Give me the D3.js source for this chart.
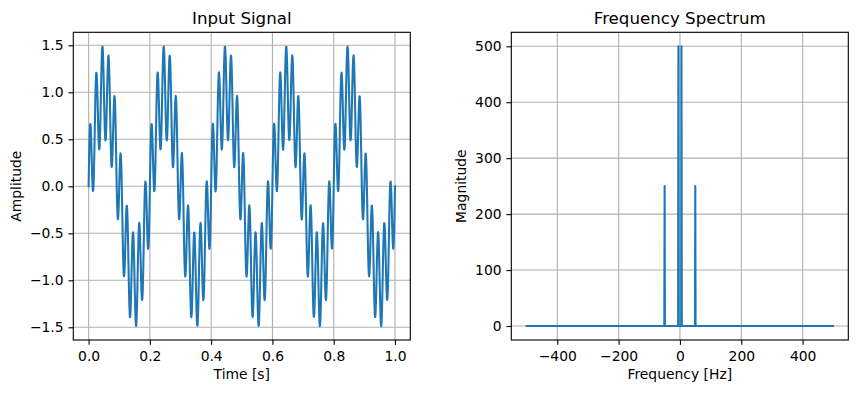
<!DOCTYPE html>
<html><head><meta charset="utf-8">
<script src="https://cdn.jsdelivr.net/npm/d3@7"></script>
<style>
html,body{margin:0;padding:0;background:#fff;}
svg{display:block;}
text{font-family:"DejaVu Sans",sans-serif;fill:#000;}
</style></head>
<body>
<svg id="c" width="857" height="393"></svg>
<script>
// ---- data ----
const signalFreqs = [5, 50];          // Hz, components of the input signal
const signalAmps  = [1.0, 0.5];       // amplitudes of those components
const sampleCount = 1000;             // samples over 1 s (0..1)
const timeTicks = [0, 0.2, 0.4, 0.6, 0.8, 1.0];
const ampTicks  = [-1.5, -1.0, -0.5, 0.0, 0.5, 1.0, 1.5];

const specFreqs = [-500, -51, -50, -49, -6, -5, -4, 4, 5, 6, 49, 50, 51, 499];
const specMags  = [0, 0, 250, 0, 0, 500, 0, 0, 500, 0, 0, 250, 0, 0];
const freqTicks = [-400, -200, 0, 200, 400];
const magTicks  = [0, 100, 200, 300, 400, 500];

// ---- build series ----
const timeVals = d3.range(sampleCount).map(i => i / (sampleCount - 1));
const signal = timeVals.map(t => ({
  x: t,
  y: d3.sum(signalFreqs, (f, k) => signalAmps[k] * Math.sin(2 * Math.PI * f * t))
}));
const spectrum = specFreqs.map((f, i) => ({x: f, y: specMags[i]}));

const svg = d3.select("#c");
const FS = 13.89, TFS = 16.67;
const blue = "#1f77b4";
const fmtMinus = s => s.replace("-", "\u2212");

function panel(o) {
  const x = d3.scaleLinear().domain(o.xdom).range([o.left, o.right]);
  const y = d3.scaleLinear().domain(o.ydom).range([o.bottom, o.top]);
  const g = svg.append("g");
  // grid
  g.append("g").selectAll("line").data(o.xticks).join("line")
    .attr("x1", d => x(d)).attr("x2", d => x(d))
    .attr("y1", o.top).attr("y2", o.bottom)
    .attr("stroke", "#b0b0b0").attr("stroke-width", 1.11);
  g.append("g").selectAll("line").data(o.yticks).join("line")
    .attr("y1", d => y(d)).attr("y2", d => y(d))
    .attr("x1", o.left).attr("x2", o.right)
    .attr("stroke", "#b0b0b0").attr("stroke-width", 1.11);
  // line
  g.append("path").datum(o.data)
    .attr("fill", "none").attr("stroke", blue).attr("stroke-width", 2.08)
    .attr("stroke-linejoin", "round").attr("stroke-linecap", "square")
    .attr("d", d3.line().x(d => x(d.x)).y(d => y(d.y)));
  // axes
  const ax = g.append("g").attr("transform", `translate(0,${o.bottom})`)
    .call(d3.axisBottom(x).tickValues(o.xticks).tickFormat(o.xfmt).tickSizeOuter(0).tickSize(4.86).tickPadding(4.86));
  const ay = g.append("g").attr("transform", `translate(${o.left},0)`)
    .call(d3.axisLeft(y).tickValues(o.yticks).tickFormat(o.yfmt).tickSizeOuter(0).tickSize(4.86).tickPadding(4.86));
  [ax, ay].forEach(a => {
    a.select(".domain").remove();
    a.selectAll(".tick line").attr("stroke", "#000").attr("stroke-width", 1.11);
    a.selectAll(".tick text").attr("font-size", FS).attr("font-family", "DejaVu Sans").attr("fill", "#000");
  });
  ax.selectAll(".tick text").attr("dy", "0.78em");
  // frame
  g.append("rect").attr("x", o.left).attr("y", o.top)
    .attr("width", o.right - o.left).attr("height", o.bottom - o.top)
    .attr("fill", "none").attr("stroke", "#000").attr("stroke-width", 1.11);
  const cx = (o.left + o.right) / 2, cy = (o.top + o.bottom) / 2;
  g.append("text").attr("x", cx).attr("y", 24.3).attr("text-anchor", "middle")
    .attr("font-size", TFS).text(o.title);
  g.append("text").attr("x", cx).attr("y", 379).attr("text-anchor", "middle")
    .attr("font-size", FS).text(o.xlabel);
  g.append("text").attr("transform", `translate(${o.ylabX},${cy}) rotate(-90)`)
    .attr("text-anchor", "middle").attr("font-size", FS).text(o.ylabel);
}

panel({
  left: 73.3, right: 410.3, top: 32.3, bottom: 340,
  xdom: [-0.05, 1.05], ydom: [-1.635, 1.638],
  xticks: timeTicks, yticks: ampTicks,
  xfmt: d => d.toFixed(1), yfmt: d => fmtMinus(d.toFixed(1)),
  data: signal, title: "Input Signal", xlabel: "Time [s]", ylabel: "Amplitude", ylabX: 21
});
panel({
  left: 511.3, right: 848.3, top: 32.3, bottom: 340,
  xdom: [-549.95, 548.95], ydom: [-25, 525],
  xticks: freqTicks, yticks: magTicks,
  xfmt: d => fmtMinus(String(d)), yfmt: d => String(d),
  data: spectrum, title: "Frequency Spectrum", xlabel: "Frequency [Hz]", ylabel: "Magnitude", ylabX: 466
});
</script>
</body></html>
